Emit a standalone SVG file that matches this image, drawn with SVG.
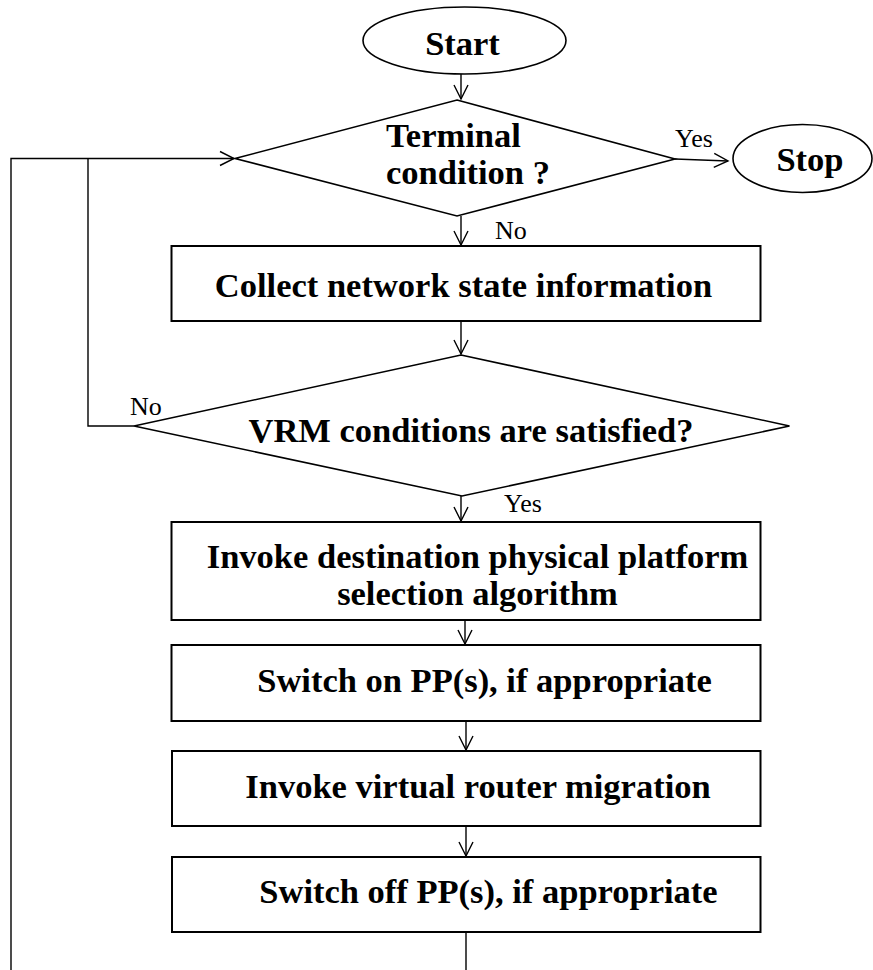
<svg xmlns="http://www.w3.org/2000/svg" width="873" height="970" viewBox="0 0 873 970">
<defs>
<marker id="arr" markerUnits="userSpaceOnUse" markerWidth="18" markerHeight="18" viewBox="0 0 18 18" refX="16" refY="9" orient="auto">
<path d="M2,2 L16,9 L2,16" fill="none" stroke="#000" stroke-width="1.4"/>
</marker>
<style>
.box{fill:#fff;stroke:#000;stroke-width:2}
.dia{fill:#fff;stroke:#000;stroke-width:1.6}
.ell{fill:#fff;stroke:#000;stroke-width:1.6}
.t{font-family:"Liberation Serif","Times New Roman",serif;font-weight:bold;font-size:34.5px;fill:#000;text-anchor:middle}
.l{font-family:"Liberation Serif","Times New Roman",serif;font-size:26px;fill:#000}
.c{fill:none;stroke:#000;stroke-width:1.4}
</style>
</defs>
<rect width="873" height="970" fill="#fff"/>
<g id="connectors">
<path class="c" d="M461,74 V99" marker-end="url(#arr)"/>
<path class="c" d="M675,159 L728,161" marker-end="url(#arr)"/>
<path class="c" d="M461,216 V245" marker-end="url(#arr)"/>
<path class="c" d="M461,321 V354" marker-end="url(#arr)"/>
<path class="c" d="M461,496 V521" marker-end="url(#arr)"/>
<path class="c" d="M465,620 V644" marker-end="url(#arr)"/>
<path class="c" d="M466,721 V750" marker-end="url(#arr)"/>
<path class="c" d="M466,826 V856" marker-end="url(#arr)"/>
<path class="c" d="M466,932 V972 H11 V158.5 H234" marker-end="url(#arr)"/>
<path class="c" d="M134,426 H88 V158.5"/>
<text class="l" x="675" y="147">Yes</text>
<text class="l" x="495" y="239">No</text>
<text class="l" x="130" y="415">No</text>
<text class="l" x="504" y="512">Yes</text>
</g>
<g id="start">
<ellipse class="ell" cx="464.5" cy="40.5" rx="101.5" ry="33.5"/>
<text class="t" x="462.5" y="55">Start</text>
</g>
<g id="terminal">
<polygon class="dia" points="457,100 675,159 457,216 235,158.5"/>
<text class="t" x="386" y="147" style="text-anchor:start">Terminal</text>
<text class="t" x="386" y="184" style="text-anchor:start">condition ?</text>
</g>
<g id="stop">
<ellipse class="ell" cx="802.5" cy="158.5" rx="69.5" ry="34"/>
<text class="t" x="810" y="171">Stop</text>
</g>
<g id="collect">
<rect class="box" x="171.5" y="246" width="589" height="75"/>
<text class="t" x="463.5" y="297">Collect network state information</text>
</g>
<g id="vrm">
<polygon class="dia" points="461,355 789.5,426 462,496 134,426"/>
<text class="t" x="471" y="442">VRM conditions are satisfied?</text>
</g>
<g id="invoke-dest">
<rect class="box" x="171.5" y="522" width="589" height="98"/>
<text class="t" x="477.5" y="568">Invoke destination physical platform</text>
<text class="t" x="477.5" y="605">selection algorithm</text>
</g>
<g id="switch-on">
<rect class="box" x="171.5" y="645" width="589" height="76"/>
<text class="t" x="484.5" y="692">Switch on PP(s), if appropriate</text>
</g>
<g id="invoke-vrm">
<rect class="box" x="172" y="751" width="588.5" height="75"/>
<text class="t" x="478" y="798">Invoke virtual router migration</text>
</g>
<g id="switch-off">
<rect class="box" x="172" y="857" width="588.5" height="75"/>
<text class="t" x="488.5" y="903">Switch off PP(s), if appropriate</text>
</g>
</svg>
